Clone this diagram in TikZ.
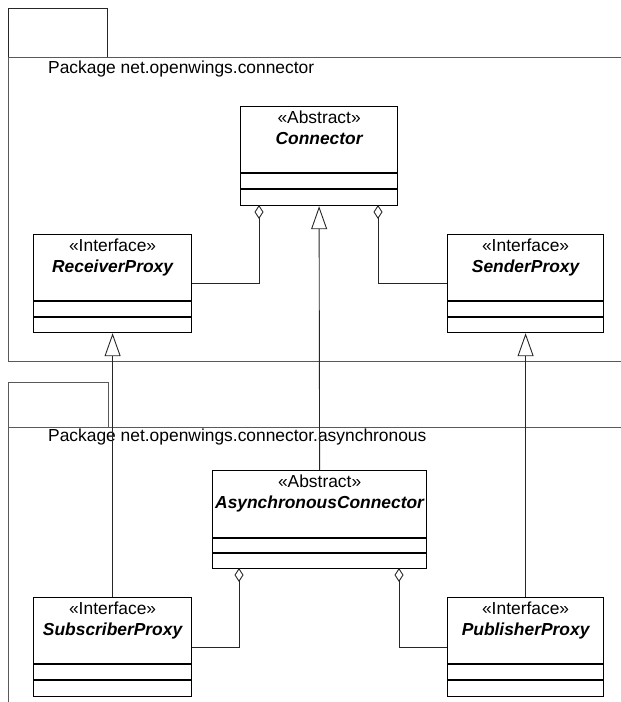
\documentclass[tikz,border=0pt]{standalone}
\usepackage{fontspec}
\setmainfont{Liberation Sans}
\usetikzlibrary{arrows.meta,calc}

\tikzset{
  frameline/.style={draw=black!65, line width=0.9pt},
  classbox/.style={draw=black, line width=1.2pt, fill=white, inner sep=0pt, anchor=north west},
  stereo/.style={anchor=base, inner sep=0pt, font=\fontsize{17.4}{20}\selectfont},
  cname/.style={anchor=base, inner sep=0pt, font=\fontsize{17.4}{20}\selectfont\bfseries\itshape},
  pkglabel/.style={anchor=base west, inner sep=0pt, font=\fontsize{17.4}{20}\selectfont},
  compline/.style={draw=black, line width=1.2pt},
  aggline/.style={draw=black!85, line width=0.9pt, -{Diamond[open, length=14pt, width=9pt, line width=0.9pt]}},
  genline/.style={draw=black!85, line width=0.9pt, -{Triangle[open, length=23pt, width=16pt, line width=0.9pt]}},
}

% class box: name, x, y (top-left), width, height, first and second compartment offsets
\newcommand{\umlclass}[9]{%
  \node[classbox, minimum width=#4pt, minimum height=#5pt] (#1) at (#2,#3) {};
  \draw[compline] ($(#1.north west)+(0,#6)$) -- ($(#1.north east)+(0,#6)$);
  \draw[compline] ($(#1.north west)+(0,#7)$) -- ($(#1.north east)+(0,#7)$);
  \node[stereo] (#1-st) at ($(#1.north)+(0,17)$) {#8};
  \node[cname] (#1-nm) at ($(#1.north)+(0,38)$) {#9};
}

\begin{document}
\begin{tikzpicture}[x=1pt, y=-1pt]
  \useasboundingbox (0,0) rectangle (621,702);

  % package net.openwings.connector
  \draw[frameline, draw=black!85] (8,57) rectangle (107,8);
  \draw[frameline] (621,57) -- (8,57) -- (8,361) -- (621,361);
  \node[pkglabel] (pkgtop) at (48,73) {Package net.openwings.connector};

  % package net.openwings.connector.asynchronous
  \draw[frameline] (8,427) rectangle (108,382);
  \draw[frameline] (621,427) -- (8,427) -- (8,702);
  \node[pkglabel] (pkgasync) at (48,441) {Package net.openwings.connector.asynchronous};

  % classes
  \umlclass{conn}{240}{106}{157}{99}{67}{83}{«Abstract»}{Connector}
  \umlclass{recv}{33}{234}{158}{98}{67}{83}{«Interface»}{ReceiverProxy}
  \umlclass{send}{447}{234}{156}{98}{67}{83}{«Interface»}{SenderProxy}
  \umlclass{async}{212}{470}{214}{98}{68}{83}{«Abstract»}{AsynchronousConnector}
  \umlclass{subs}{33}{597}{158}{99}{67}{83}{«Interface»}{SubscriberProxy}
  \umlclass{pub}{447}{597}{156}{99}{67}{83}{«Interface»}{PublisherProxy}

  % aggregation ends on the abstract classes
  \coordinate (connAggL) at (259,205);
  \coordinate (connAggR) at (378,205);
  \coordinate (asyncAggL) at (239,568);
  \coordinate (asyncAggR) at (399,568);

  % aggregations
  \draw[aggline] (recv.east) -| (connAggL);
  \draw[aggline] (send.west) -| (connAggR);
  \draw[aggline] (subs.east) -| (asyncAggL);
  \draw[aggline] (pub.west) -| (asyncAggR);

  % generalizations
  \draw[genline] (async.north) -- (conn.south);
  \draw[genline] (subs.north) -- (recv.south);
  \draw[genline] (pub.north) -- (send.south);
\end{tikzpicture}
\end{document}
